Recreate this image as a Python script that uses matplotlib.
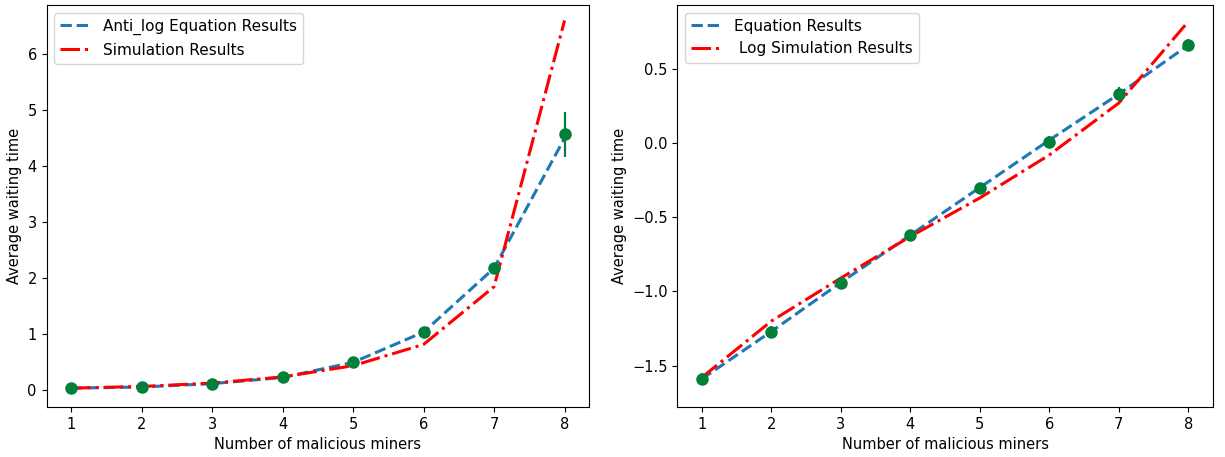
import matplotlib
matplotlib.use("Agg")
import matplotlib.pyplot as plt

miners = [1, 2, 3, 4, 5, 6, 7, 8]

# left panel (anti-log scale)
eq_left = [0.04, 0.06, 0.12, 0.23, 0.50, 1.04, 2.18, 4.50]
sim_left = [0.04, 0.07, 0.13, 0.24, 0.44, 0.82, 1.85, 6.60]
pts_left = [0.04, 0.06, 0.12, 0.23, 0.50, 1.04, 2.18, 4.57]
err_left = [0.01, 0.01, 0.01, 0.02, 0.03, 0.04, 0.10, 0.40]

# right panel (log scale)
eq_right = [-1.59, -1.27, -0.94, -0.62, -0.30, 0.02, 0.33, 0.66]
sim_right = [-1.58, -1.20, -0.91, -0.63, -0.37, -0.08, 0.27, 0.82]
pts_right = [-1.59, -1.27, -0.94, -0.62, -0.30, 0.01, 0.33, 0.66]
err_right = [0.04, 0.04, 0.04, 0.03, 0.03, 0.04, 0.05, 0.04]

plt.rcParams["xtick.labelsize"] = 10.5
plt.rcParams["ytick.labelsize"] = 10.5

fig = plt.figure(figsize=(12.25, 4.57), dpi=100)
ax0 = fig.add_axes([0.038, 0.109, 0.443, 0.880])
ax1 = fig.add_axes([0.553, 0.109, 0.437, 0.880])

ax0.plot(miners, eq_left, color="#1f77b4", linestyle="--", linewidth=2.2, label="Anti_log Equation Results")
ax0.plot(miners, sim_left, color="red", linestyle="-.", linewidth=2.2, label="Simulation Results")
ax0.errorbar(miners, pts_left, yerr=err_left, fmt="o", color="#00803a", markersize=8, linewidth=1.6)
ax0.set_xlabel("Number of malicious miners", fontsize=10.5)
ax0.set_ylabel("Average waiting time", fontsize=10.5)
ax0.set_ylim(-0.30, 6.875)
ax0.legend(loc="upper left", fontsize=11)

ax1.plot(miners, eq_right, color="#1f77b4", linestyle="--", linewidth=2.2, label="Equation Results")
ax1.plot(miners, sim_right, color="red", linestyle="-.", linewidth=2.2, label=" Log Simulation Results")
ax1.errorbar(miners, pts_right, yerr=err_right, fmt="o", color="#00803a", markersize=8, linewidth=1.6)
ax1.set_xlabel("Number of malicious miners", fontsize=10.5)
ax1.set_ylabel("Average waiting time", fontsize=10.5)
ax1.set_ylim(-1.78, 0.93)
ax1.legend(loc="upper left", fontsize=11)

fig.savefig("out.png", dpi=100)
